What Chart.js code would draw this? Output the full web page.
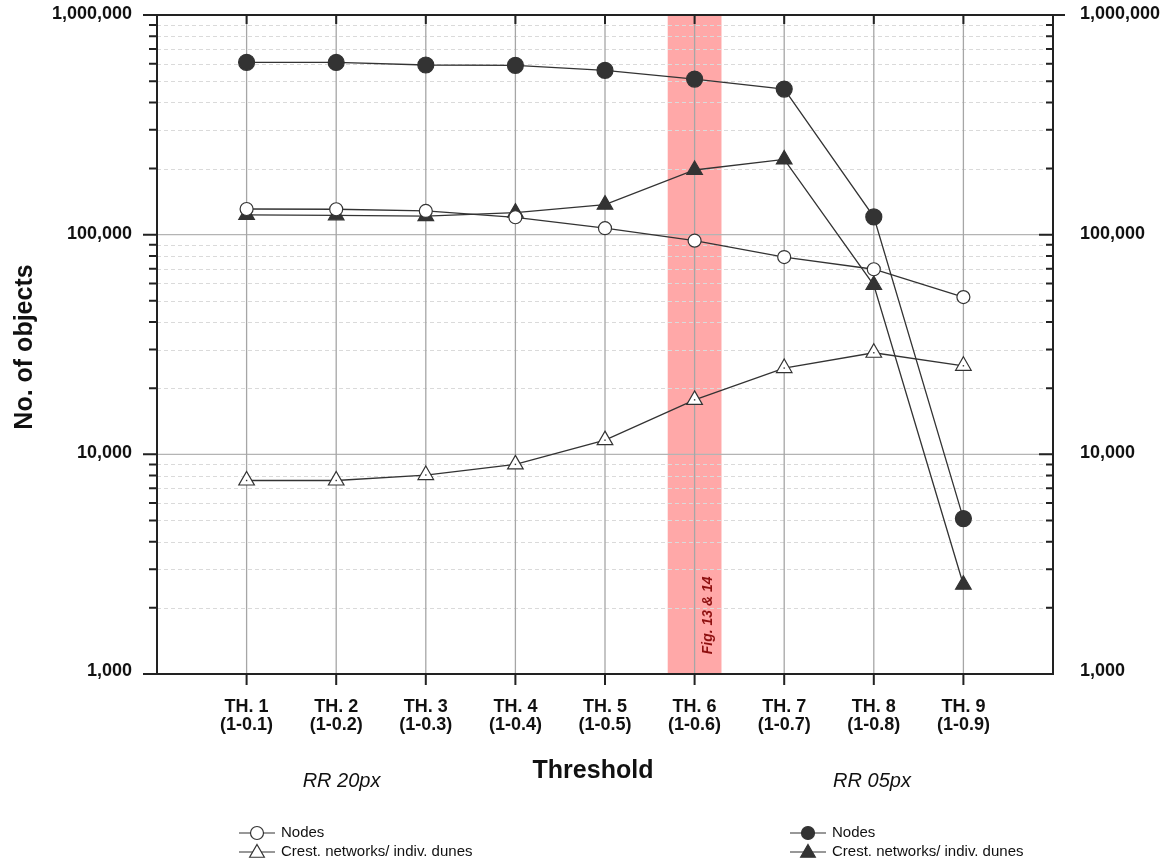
<!DOCTYPE html>
<html>
<head>
<meta charset="utf-8">
<script src="https://cdn.jsdelivr.net/npm/chart.js@4.4.1/dist/chart.umd.min.js"></script>
<style>
  html, body { margin: 0; padding: 0; background: #fff; }
  canvas { display: block; }
</style>
</head>
<body>
<canvas id="chart" width="1175" height="865"></canvas>
<script>
// thresholds on the x axis
const thresholds = [1, 2, 3, 4, 5, 6, 7, 8, 9];
const thNames = ['TH. 1', 'TH. 2', 'TH. 3', 'TH. 4', 'TH. 5', 'TH. 6', 'TH. 7', 'TH. 8', 'TH. 9'];
const thRanges = ['(1-0.1)', '(1-0.2)', '(1-0.3)', '(1-0.4)', '(1-0.5)', '(1-0.6)', '(1-0.7)', '(1-0.8)', '(1-0.9)'];

// RR 20px (open markers)
const nodes20 = [130900, 130500, 128200, 120000, 107000, 93900, 79100, 69600, 52000];
const crest20 = [7600, 7600, 8050, 9000, 11600, 17700, 24700, 29000, 25300];
// RR 05px (filled markers)
const nodes05 = [609000, 608000, 592000, 590000, 560000, 511000, 460000, 120500, 5100];
const crest05 = [123000, 122500, 121500, 126000, 137000, 197000, 220000, 59000, 2550];

const yTickValues = [1000, 10000, 100000, 1000000];
const yTickLabels = ['1,000', '10,000', '100,000', '1,000,000'];
const bandRange = [5.7, 6.3];
const bandText = 'Fig. 13 & 14';

const INK = '#333333';
const FONT = '"Liberation Sans", Arial, sans-serif';

function pts(values) {
    return thresholds.map((t, i) => ({ x: t, y: values[i] }));
}

function marker(ctx, style, filled, r, x, y) {
    ctx.beginPath();
    if (style === 'circle') {
        ctx.arc(x, y, r, 0, Math.PI * 2);
    } else {
        ctx.moveTo(x, y - r);
        ctx.lineTo(x + r * Math.sin(Math.PI * 2 / 3), y + r / 2);
        ctx.lineTo(x - r * Math.sin(Math.PI * 2 / 3), y + r / 2);
        ctx.closePath();
    }
    ctx.fillStyle = filled ? INK : '#fff';
    ctx.fill();
    ctx.lineWidth = 1.2;
    ctx.strokeStyle = INK;
    ctx.stroke();
}

const decorPlugin = {
    id: 'decor',
    beforeDatasetsDraw(chart) {
        const { ctx, chartArea: a, scales: { x, y } } = chart;
        ctx.save();

        // highlighted threshold
        const bx0 = x.getPixelForValue(bandRange[0]);
        const bx1 = x.getPixelForValue(bandRange[1]);
        ctx.fillStyle = '#ffa8a8';
        ctx.fillRect(bx0, a.top, bx1 - bx0, a.bottom - a.top);

        // minor log grid
        ctx.strokeStyle = '#dadada';
        ctx.lineWidth = 1;
        ctx.setLineDash([4, 3]);
        for (let d = 1000; d < 1000000; d *= 10) {
            for (let k = 2; k <= 9; k++) {
                const py = Math.round(y.getPixelForValue(d * k)) + 0.5;
                ctx.beginPath();
                ctx.moveTo(a.left, py);
                ctx.lineTo(a.right, py);
                ctx.stroke();
            }
        }
        ctx.setLineDash([]);

        // major grid
        ctx.strokeStyle = '#b4b4b4';
        ctx.lineWidth = 1.3;
        yTickValues.forEach(v => {
            const py = y.getPixelForValue(v);
            ctx.beginPath();
            ctx.moveTo(a.left, py);
            ctx.lineTo(a.right, py);
            ctx.stroke();
        });
        ctx.strokeStyle = '#a6a6a6';
        thresholds.forEach(t => {
            const px = x.getPixelForValue(t);
            ctx.beginPath();
            ctx.moveTo(px, a.top);
            ctx.lineTo(px, a.bottom);
            ctx.stroke();
        });

        // band caption
        ctx.save();
        ctx.translate(x.getPixelForValue(6) + 14, y.getPixelForValue(1850));
        ctx.rotate(-Math.PI / 2);
        ctx.fillStyle = '#8e1010';
        ctx.font = 'italic bold 14px ' + FONT;
        ctx.textAlign = 'center';
        ctx.textBaseline = 'middle';
        ctx.fillText(bandText, 0, 0);
        ctx.restore();

        ctx.restore();
    },
    afterDatasetsDraw(chart) {
        // small centre dots in the open triangles
        const ctx = chart.ctx;
        const meta = chart.getDatasetMeta(1);
        ctx.save();
        ctx.fillStyle = INK;
        meta.data.forEach(p => ctx.fillRect(p.x - 0.7, p.y - 0.7, 1.4, 1.4));
        ctx.restore();
    },
    afterDraw(chart) {
        const { ctx, chartArea: a, scales: { x, y } } = chart;
        ctx.save();

        // frame
        ctx.strokeStyle = '#222';
        ctx.lineWidth = 2;
        ctx.beginPath();
        ctx.moveTo(a.left - 14, a.top);
        ctx.lineTo(a.right + 12, a.top);
        ctx.moveTo(a.left, a.top);
        ctx.lineTo(a.left, a.bottom);
        ctx.lineTo(a.right, a.bottom);
        ctx.lineTo(a.right, a.top);
        ctx.stroke();

        // y ticks, left outward, right inward
        ctx.lineWidth = 2;
        for (let d = 1000; d <= 1000000; d *= 10) {
            for (let k = 1; k <= 9; k++) {
                const v = d * k;
                if (v > 1000000) break;
                const py = y.getPixelForValue(v);
                const major = k === 1;
                ctx.beginPath();
                ctx.moveTo(a.left - (major ? 14 : 8), py);
                ctx.lineTo(a.left, py);
                ctx.moveTo(a.right - (major ? 14 : 7), py);
                ctx.lineTo(a.right, py);
                ctx.stroke();
            }
        }
        // x ticks
        thresholds.forEach(t => {
            const px = x.getPixelForValue(t);
            ctx.beginPath();
            ctx.moveTo(px, a.bottom);
            ctx.lineTo(px, a.bottom + 11);
            ctx.moveTo(px, a.top);
            ctx.lineTo(px, a.top + 9);
            ctx.stroke();
        });

        // y tick labels
        ctx.fillStyle = '#111';
        ctx.font = 'bold 18px ' + FONT;
        ctx.textBaseline = 'middle';
        yTickValues.forEach((v, i) => {
            const py = y.getPixelForValue(v) - (i === 0 ? 3 : 1);
            ctx.textAlign = 'right';
            ctx.fillText(yTickLabels[i], a.left - 25, py);
            ctx.textAlign = 'left';
            ctx.fillText(yTickLabels[i], a.right + 27, py);
        });

        // x tick labels
        ctx.font = 'bold 18px ' + FONT;
        ctx.textAlign = 'center';
        thresholds.forEach((t, i) => {
            const px = x.getPixelForValue(t);
            ctx.fillText(thNames[i], px, a.bottom + 33);
            ctx.fillText(thRanges[i], px, a.bottom + 51);
        });

        // titles
        ctx.font = 'bold 25px ' + FONT;
        ctx.fillText('Threshold', 593, a.bottom + 97);
        ctx.save();
        ctx.translate(25, 347);
        ctx.rotate(-Math.PI / 2);
        ctx.fillText('No. of objects', 0, 0);
        ctx.restore();

        ctx.font = 'italic 20px ' + FONT;
        ctx.fillText('RR 20px', x.getPixelForValue(2.06), a.bottom + 107);
        ctx.fillText('RR 05px', x.getPixelForValue(7.98), a.bottom + 107);

        // legends
        const rows = [
            { style: 'circle', r: 6.5, text: 'Nodes' },
            { style: 'triangle', r: 8.5, text: 'Crest. networks/ indiv. dunes' }
        ];
        const groups = [{ cx: 257, filled: false }, { cx: 808, filled: true }];
        ctx.font = '15px ' + FONT;
        ctx.textAlign = 'left';
        groups.forEach(g => {
            rows.forEach((row, j) => {
                const cy = 833 + j * 19;
                ctx.strokeStyle = INK;
                ctx.lineWidth = 1.2;
                ctx.beginPath();
                ctx.moveTo(g.cx - 18, cy);
                ctx.lineTo(g.cx + 18, cy);
                ctx.stroke();
                marker(ctx, row.style, g.filled, row.r, g.cx, cy + (row.style === 'triangle' ? 1 : 0));
                ctx.fillStyle = '#111';
                ctx.fillText(row.text, g.cx + 24, cy);
            });
        });

        ctx.restore();
    }
};

const lineStyle = {
    borderColor: INK,
    borderWidth: 1.3,
    pointBorderColor: INK,
    pointBorderWidth: 1.2,
    pointHoverRadius: 0,
    tension: 0
};

new Chart(document.getElementById('chart').getContext('2d'), {
    type: 'line',
    data: {
        datasets: [
            { ...lineStyle, label: 'Nodes (RR 20px)', data: pts(nodes20), pointStyle: 'circle', pointRadius: 6.5, pointBackgroundColor: '#fff' },
            { ...lineStyle, label: 'Crest networks (RR 20px)', data: pts(crest20), pointStyle: 'triangle', pointRadius: 9, pointBackgroundColor: '#fff' },
            { ...lineStyle, label: 'Nodes (RR 05px)', data: pts(nodes05), pointStyle: 'circle', pointRadius: 8, pointBackgroundColor: INK },
            { ...lineStyle, label: 'Crest networks (RR 05px)', data: pts(crest05), pointStyle: 'triangle', pointRadius: 9, pointBackgroundColor: INK }
        ]
    },
    options: {
        responsive: false,
        animation: false,
        events: [],
        layout: { padding: { left: 157, right: 122, top: 15, bottom: 191 } },
        scales: {
            x: { type: 'linear', min: 0, max: 10, display: false },
            y: { type: 'logarithmic', min: 1000, max: 1000000, display: false }
        },
        plugins: {
            legend: { display: false },
            tooltip: { enabled: false }
        }
    },
    plugins: [decorPlugin]
});
</script>
</body>
</html>
